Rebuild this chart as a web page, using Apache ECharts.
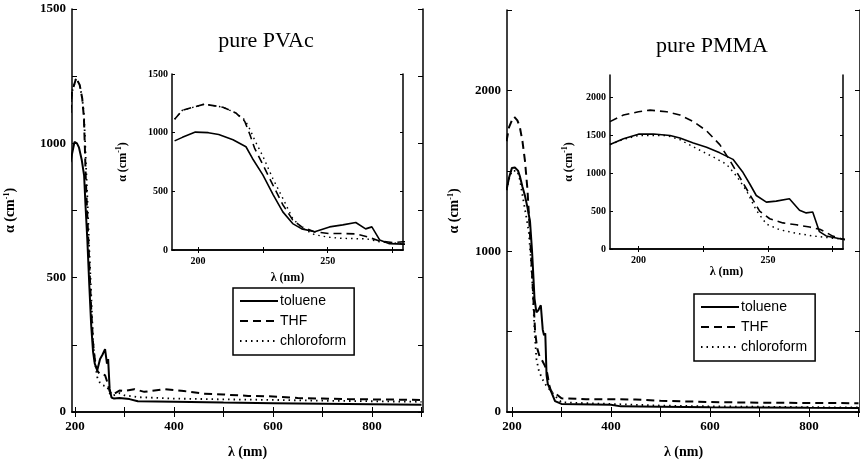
<!DOCTYPE html>
<html>
<head>
<meta charset="utf-8">
<script src="https://cdn.jsdelivr.net/npm/echarts@6/dist/echarts.min.js"></script>
<style>html,body{margin:0;padding:0;background:#fff}#c{width:860px;height:464px}</style>
</head>
<body>
<div id="c"></div>
<script>
// ---- data: [wavelength nm, alpha cm^-1] ----
const pvacToluene = [[191,930],[194,960],[199,1005],[204,1000],[208,985],[213.5,940],[218.5,880],[221,780],[225,640],[229,470],[232.7,325],[236.5,225],[240,180],[245,155],[250.7,197],[255.8,214],[260.8,234],[264.6,180],[267,197],[270,86],[273.8,54],[279,50],[290,52],[310,48],[327,40],[400,38],[500,35],[600,33],[700,31],[800,29],[900,27]];
const pvacTHF = [[191,1114],[194,1191],[202.5,1243],[209.6,1217],[214.6,1168],[218,1097],[220,985],[221.8,869],[225,728],[228.8,557],[232.7,386],[236.5,257],[240,197],[245,154],[250.7,140],[255.8,140],[260.8,137],[265.4,111],[270,77],[275,63],[279,70],[290,80],[300,78],[320,85],[340,75],[380,85],[420,78],[460,68],[500,65],[550,60],[600,58],[650,52],[700,50],[750,48],[800,47],[850,46],[900,45]];
const pvacChloroform = [[191,1114],[194,1191],[202.5,1243],[209.6,1217],[214.6,1168],[218,1110],[220,1030],[222,930],[225,800],[228.8,611],[232.7,440],[236.5,268],[240,188],[245,130],[250,110],[255,100],[260,97],[265,95],[270,70],[275,60],[279,55],[290,70],[300,62],[330,55],[400,50],[500,47],[600,45],[700,42],[800,40],[900,38]];
const pmmaToluene = [[189,1380],[194.2,1458],[200,1518],[205.8,1520],[212.2,1501],[216,1466],[221.2,1401],[226.3,1345],[231.4,1271],[236.5,1185],[240.4,1010],[243,859],[245.5,707],[249.4,620],[253.2,633],[258.3,664],[262.2,512],[264.8,477],[267.3,490],[269.9,229],[272.5,173],[278.8,130],[287,68],[300,50],[400,45],[420,35],[500,33],[600,30],[700,28],[800,26],[900,25]];
const pmmaTHF = [[189,1684],[194.2,1771],[200,1814],[204.5,1836],[210.9,1814],[216,1771],[221.2,1684],[226.3,1562],[231.4,1380],[235.3,1170],[239.1,950],[243,720],[246.8,500],[250.7,400],[255.8,345],[261,320],[266.1,290],[270,260],[272.5,220],[275,170],[278.8,130],[287,118],[300,85],[350,80],[450,78],[500,70],[600,62],[700,58],[800,56],[900,55]];
const pmmaChloroform = [[189,1380],[194.2,1450],[200,1500],[210.9,1500],[216,1445],[222.4,1328],[228.9,1215],[234,1120],[237.8,967],[241.7,772],[245.5,512],[249.4,330],[254.5,255],[260.9,208],[267.3,173],[275,143],[278.8,130],[287,100],[300,60],[400,50],[500,40],[600,35],[700,33],[800,30],[900,28]];

const solvents = ['toluene', 'THF', 'chloroform'];
const titles = ['pure PVAc', 'pure PMMA'];

// ---- tick values ----
const mainXLabels = [200, 400, 600, 800];
const mainXTicks = [200, 300, 400, 500, 600, 700, 800, 900];
const pvacYLabels = [0, 500, 1000, 1500];
const pvacYTicks = [0, 250, 500, 750, 1000, 1250, 1500];
const pmmaYLabels = [0, 1000, 2000];
const pmmaYTicks = [0, 500, 1000, 1500, 2000, 2500];
const insetXLabels = [200, 250];
const insetXTicks = [200, 225, 250, 275];
const pvacInsetYLabels = [0, 500, 1000, 1500];
const pmmaInsetYLabels = [0, 500, 1000, 1500, 2000];

const SERIF = '"Liberation Serif", "Times New Roman", serif';
const SANS = '"Liberation Sans", Arial, sans-serif';

const grids = [
  {left: 72, top: 9, width: 351, height: 405},
  {left: 507, top: 10, width: 355, height: 404},
  {left: 172, top: 74, width: 231, height: 176},
  {left: 610, top: 75, width: 233, height: 174}
];
const xr = [[194, 903], [190, 903], [190, 279], [189, 279]];
const yr = [[0, 1500], [0, 2500], [0, 1500], [0, 2300]];
const xLab = [mainXLabels, mainXLabels, insetXLabels, insetXLabels];
const xTk = [mainXTicks, mainXTicks, insetXTicks, insetXTicks];
const yLab = [pvacYLabels, pmmaYLabels, pvacInsetYLabels, pmmaInsetYLabels];
const yTk = [pvacYTicks, pmmaYTicks, pvacInsetYLabels, pmmaInsetYLabels];
const isInset = [false, false, true, true];
const yNameGap = [54, 45, 42, 34];
const xNameGap = [33, 33, 22, 17];
const plain = v => String(v);

const lineAx = {show: true, lineStyle: {color: '#000', width: 1.5}};
const xAxis = [], yAxis = [];
for (let i = 0; i < 4; i++) {
  const fs = isInset[i] ? 10 : 13;
  const nfs = isInset[i] ? 12 : 14;
  xAxis.push({
    type: 'value', gridIndex: i, min: xr[i][0], max: xr[i][1], position: 'bottom',
    splitLine: {show: false}, axisLine: lineAx,
    axisTick: {inside: true, length: isInset[i] ? 3 : 5, customValues: xTk[i], lineStyle: {color: '#000', width: 1}},
    axisLabel: {customValues: xLab[i], formatter: plain, color: '#000', fontFamily: SERIF, fontWeight: 'bold', fontSize: fs, margin: isInset[i] ? 6 : 8},
    name: 'λ (nm)', nameLocation: 'middle', nameGap: xNameGap[i],
    nameTextStyle: {color: '#000', fontFamily: SERIF, fontWeight: 'bold', fontSize: nfs}
  });
  yAxis.push({
    type: 'value', gridIndex: i, min: yr[i][0], max: yr[i][1], position: 'left',
    splitLine: {show: false}, axisLine: lineAx,
    axisTick: {inside: true, length: isInset[i] ? 3 : 5, customValues: yTk[i], lineStyle: {color: '#000', width: 1}},
    axisLabel: {customValues: yLab[i], formatter: plain, color: '#000', fontFamily: SERIF, fontWeight: 'bold', fontSize: fs, margin: isInset[i] ? 4 : 6},
    name: 'α (cm{s|-1})', nameLocation: 'middle', nameGap: yNameGap[i], nameRotate: 90,
    nameTextStyle: {color: '#000', fontFamily: SERIF, fontWeight: 'bold', fontSize: nfs,
      rich: {s: {fontFamily: SERIF, fontWeight: 'bold', fontSize: 8, color: '#000', padding: [0, 0, 7, 0]}}}
  });
}
for (let i = 0; i < 4; i++) {
  xAxis.push({
    type: 'value', gridIndex: i, min: xr[i][0], max: xr[i][1], position: 'top',
    splitLine: {show: false}, axisLine: lineAx,
    axisTick: {inside: true, length: isInset[i] ? 3 : 5, customValues: xTk[i], lineStyle: {color: '#000', width: 1}},
    axisLabel: {show: false}
  });
  yAxis.push({
    type: 'value', gridIndex: i, min: yr[i][0], max: yr[i][1], position: 'right',
    splitLine: {show: false}, axisLine: lineAx,
    axisTick: {inside: true, length: isInset[i] ? 3 : 5, customValues: yTk[i], lineStyle: {color: '#000', width: 1}},
    axisLabel: {show: false}
  });
}

const styles = {
  toluene: {type: 'solid', width: 2},
  THF: {type: [8, 5], width: 2},
  chloroform: {type: [1.5, 4], width: 1.8}
};
const dataSets = [
  {toluene: pvacToluene, THF: pvacTHF, chloroform: pvacChloroform},
  {toluene: pmmaToluene, THF: pmmaTHF, chloroform: pmmaChloroform}
];
const series = [];
for (let g = 0; g < 4; g++) {
  const ds = dataSets[g % 2];
  solvents.forEach(s => {
    series.push({
      name: s, type: 'line', xAxisIndex: g, yAxisIndex: g,
      data: ds[s], showSymbol: false, symbol: 'none', smooth: false, clip: true,
      lineStyle: {color: '#000', type: styles[s].type, width: isInset[g] ? styles[s].width * 0.8 : styles[s].width},
      itemStyle: {color: '#000'}, silent: true, animation: false, z: 3
    });
  });
}

const legendBase = {
  orient: 'vertical', data: solvents, itemWidth: 38, itemHeight: 14, itemGap: 6,
  backgroundColor: '#fff', borderColor: '#000', borderWidth: 1.5, padding: [6, 8, 7, 6],
  itemStyle: {color: 'rgba(0,0,0,0)', borderWidth: 0, opacity: 0},
  textStyle: {color: '#000', fontFamily: SANS, fontSize: 14, padding: [0, 0, 0, -3]},
  selectedMode: false, inactiveColor: '#000'
};

const option = {
  animation: false,
  backgroundColor: '#fff',
  grid: grids.map(g => Object.assign({containLabel: false}, g)),
  xAxis, yAxis, series,
  legend: [
    Object.assign({left: 233, top: 288}, legendBase),
    Object.assign({left: 694, top: 294}, legendBase)
  ],
  graphic: [
    {type: 'text', x: 266, y: 41, style: {text: titles[0], fontFamily: SERIF, fontSize: 22, fill: '#000', align: 'center', verticalAlign: 'middle'}},
    {type: 'text', x: 712, y: 46, style: {text: titles[1], fontFamily: SERIF, fontSize: 22, fill: '#000', align: 'center', verticalAlign: 'middle'}}
  ]
};
const chart = echarts.init(document.getElementById('c'), null, {renderer: 'canvas'});
chart.setOption(option);
</script>
</body>
</html>
